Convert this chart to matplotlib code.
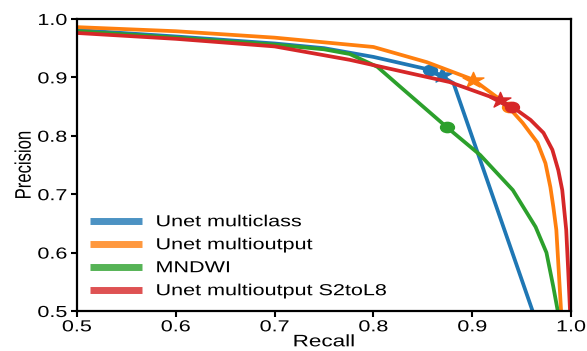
import matplotlib
matplotlib.use("Agg")
from matplotlib import pyplot as plt
from matplotlib.patheffects import AbstractPathEffect
from matplotlib.transforms import Affine2D
from matplotlib.path import Path
import numpy as np

plt.rcParams["font.family"] = ["Liberation Sans", "DejaVu Sans"]

# precision-recall curves
recall_multiclass = [0.5, 0.6, 0.7, 0.75, 0.8, 0.857, 0.881, 0.962]
precision_multiclass = [0.981, 0.970, 0.958, 0.950, 0.935, 0.913, 0.890, 0.495]

recall_multioutput = [0.5, 0.6, 0.7, 0.8, 0.854, 0.901, 0.933, 0.951, 0.966, 0.974,
                      0.979, 0.982, 0.985, 0.990]
precision_multioutput = [0.986, 0.979, 0.968, 0.952, 0.926, 0.896, 0.856, 0.822, 0.788,
                         0.753, 0.712, 0.678, 0.639, 0.495]

recall_mndwi = [0.5, 0.6, 0.7, 0.75, 0.776, 0.804, 0.827, 0.874, 0.908, 0.941, 0.964,
                0.975, 0.982, 0.987]
precision_mndwi = [0.979, 0.968, 0.956, 0.948, 0.940, 0.918, 0.884, 0.815, 0.767, 0.707,
                   0.644, 0.600, 0.541, 0.495]

recall_s2tol8 = [0.5, 0.6, 0.7, 0.776, 0.877, 0.928, 0.941, 0.959, 0.972, 0.981, 0.987,
                 0.991, 0.993, 0.995, 0.997, 0.999]
precision_s2tol8 = [0.976, 0.966, 0.953, 0.930, 0.892, 0.861, 0.849, 0.827, 0.805, 0.776,
                    0.741, 0.707, 0.673, 0.639, 0.570, 0.495]

# operating points (dots and stars)
dot_points = {
    "Unet multiclass": (0.857, 0.913),
    "Unet multioutput": (0.937, 0.850),
    "MNDWI": (0.874, 0.815),
    "Unet multioutput S2toL8": (0.940, 0.849),
}
star_points = {
    "Unet multiclass": (0.869, 0.904),
    "Unet multioutput": (0.901, 0.896),
    "Unet multioutput S2toL8": (0.928, 0.861),
}

curves = [
    ("Unet multiclass", recall_multiclass, precision_multiclass, "#1f77b4"),
    ("Unet multioutput", recall_multioutput, precision_multioutput, "#ff7f0e"),
    ("MNDWI", recall_mndwi, precision_mndwi, "#2ca02c"),
    ("Unet multioutput S2toL8", recall_s2tol8, precision_s2tol8, "#d62728"),
]

SX = 1.35  # the reference picture is stretched sideways


class HStretch(AbstractPathEffect):
    """Widen text glyphs around a chosen anchor."""

    def __init__(self, sx=SX, anchor="left", vertical=False):
        super().__init__()
        self.sx = sx
        self.anchor = anchor
        self.vertical = vertical

    def draw_path(self, renderer, gc, tpath, affine, rgbFace=None):
        ext = tpath.get_extents()
        if self.vertical:
            t = Affine2D().scale(1, self.sx)
        else:
            if self.anchor == "center":
                c = (ext.x0 + ext.x1) / 2
            elif self.anchor == "right":
                c = ext.x1
            else:
                c = ext.x0
            t = Affine2D().translate(-c, 0).scale(self.sx, 1).translate(c, 0)
        renderer.draw_path(gc, tpath, t + affine, rgbFace)


def wide_marker(path):
    v = path.vertices.copy()
    v[:, 0] *= SX
    return Path(v, path.codes)


dot_marker = wide_marker(Path.unit_circle())
star_marker = wide_marker(Path.unit_regular_star(5, 0.381966))

fig = plt.figure(figsize=(5.87, 3.51), dpi=100)
ax = fig.add_axes([0.131, 0.114, 0.842, 0.832])

for name, r, p, c in curves:
    ax.plot(r, p, color=c, lw=2.7, label=name, solid_capstyle="butt")
    if name in dot_points:
        x, y = dot_points[name]
        ax.plot(x, y, marker=dot_marker, color=c, ms=10, ls="none")
    if name in star_points:
        x, y = star_points[name]
        ax.plot(x, y, marker=star_marker, color=c, ms=15, ls="none")

ax.set_xlim(0.5, 1.0)
ax.set_ylim(0.5, 1.0)
ax.set_xticks([0.5, 0.6, 0.7, 0.8, 0.9, 1.0])
ax.set_yticks([0.5, 0.6, 0.7, 0.8, 0.9, 1.0])
ax.tick_params(direction="out", length=4, width=1.5, labelsize=11.5, pad=2)
ax.tick_params(axis="y", pad=3)
for s in ax.spines.values():
    s.set_linewidth(1.6)

xl = ax.set_xlabel("Recall", fontsize=12, labelpad=0)
yl = ax.set_ylabel("Precision", fontsize=12, labelpad=8)
xl.set_path_effects([HStretch(anchor="center")])
yl.set_path_effects([HStretch(vertical=True)])

for lab in ax.get_xticklabels():
    lab.set_path_effects([HStretch(anchor="center")])
for lab in ax.get_yticklabels():
    lab.set_path_effects([HStretch(anchor="right")])

leg = ax.legend(loc="lower left", frameon=False, fontsize=11.5, handlelength=3.3,
                handletextpad=0.85, labelspacing=0.5, borderaxespad=0.4,
                bbox_to_anchor=(0.0, 0.0))
for h in leg.get_lines():
    h.set_linewidth(5)
    h.set_alpha(0.8)
for t in leg.get_texts():
    t.set_path_effects([HStretch(anchor="left")])

fig.savefig("out.png", dpi=100)
